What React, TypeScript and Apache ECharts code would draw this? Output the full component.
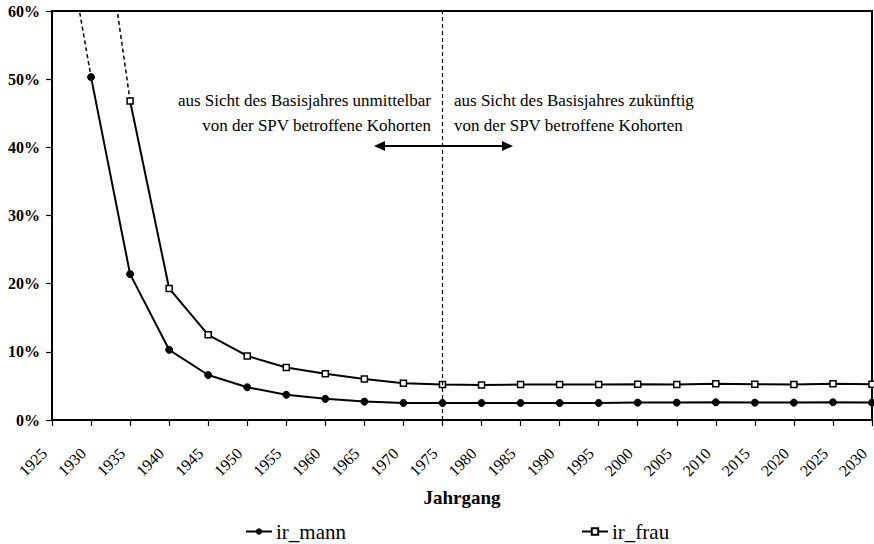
import React, { useEffect, useRef } from "react";
import * as echarts from "echarts";

const years = [1930, 1935, 1940, 1945, 1950, 1955, 1960, 1965, 1970, 1975, 1980, 1985, 1990, 1995, 2000, 2005, 2010, 2015, 2020, 2025, 2030];
const mannValues = [50.3, 21.4, 10.3, 6.6, 4.8, 3.7, 3.1, 2.7, 2.5, 2.5, 2.5, 2.5, 2.5, 2.5, 2.55, 2.55, 2.6, 2.55, 2.55, 2.6, 2.55];
const frauYears = years.slice(1);
const frauValues = [46.8, 19.3, 12.5, 9.4, 7.7, 6.8, 6.0, 5.4, 5.2, 5.15, 5.2, 5.2, 5.2, 5.25, 5.2, 5.3, 5.25, 5.2, 5.3, 5.25];
// points outside the visible range (drawn dashed, clipped at 60%)
const mannLead = [[1925, 83], [1930, 50.3]];
const frauLead = [[1930, 87], [1935, 46.8]];
const baseYear = 1975;
const leftNote = ["aus Sicht des Basisjahres unmittelbar", "von der SPV betroffene Kohorten"];
const rightNote = ["aus Sicht des Basisjahres zukünftig", "von der SPV betroffene Kohorten"];

const FONT = "'Liberation Serif', 'Times New Roman', serif";

export default function App() {
  const ref = useRef<HTMLDivElement>(null);
  useEffect(() => {
    document.body.style.margin = "0";
    if (!ref.current) return;
    const chart = echarts.init(ref.current, null, { renderer: "svg" });
    const ay = 146;
    chart.setOption({
      animation: false,
      backgroundColor: "#fff",
      textStyle: { fontFamily: FONT, color: "#000" },
      grid: { left: 52, right: 2, top: 11, bottom: 124, show: true, borderColor: "#000", borderWidth: 2, backgroundColor: "transparent" },
      legend: [
        {
          data: ["ir_mann"], left: 245, top: 521, itemWidth: 26, itemHeight: 8, itemGap: 0, padding: 0,
          textStyle: { fontFamily: FONT, fontSize: 21, color: "#000", padding: [0, 0, 0, -1] },
        },
        {
          data: ["ir_frau"], left: 581, top: 521, itemWidth: 26, itemHeight: 8, itemGap: 0, padding: 0,
          textStyle: { fontFamily: FONT, fontSize: 21, color: "#000", padding: [0, 0, 0, -1] },
        },
      ],
      xAxis: {
        type: "value", min: 1925, max: 2030, interval: 5,
        name: "Jahrgang", nameLocation: "middle", nameGap: 68,
        nameTextStyle: { fontFamily: FONT, fontSize: 19, fontWeight: "bold", color: "#000" },
        axisLine: { lineStyle: { color: "#000", width: 2 } },
        axisTick: { show: true, length: 6, lineStyle: { color: "#000", width: 1.2 } },
        axisLabel: {
          rotate: 45, margin: 23, padding: [0, 11, 0, 0],
          fontFamily: FONT, fontSize: 16, color: "#000", formatter: (v: number) => String(v),
        },
        splitLine: { show: false },
      },
      yAxis: {
        type: "value", min: 0, max: 60, interval: 10,
        axisLine: { show: true, lineStyle: { color: "#000", width: 2 } },
        axisTick: { show: true, length: 6, lineStyle: { color: "#000", width: 1.2 } },
        axisLabel: { margin: 12, fontFamily: FONT, fontSize: 16, fontWeight: "bold", color: "#000", formatter: "{value}%" },
        splitLine: { show: false },
      },
      series: [
        {
          name: "mann_lead", type: "line", data: mannLead, symbol: "none", clip: true, silent: true,
          lineStyle: { color: "#000", width: 1.5, type: [4, 3] },
        },
        {
          name: "frau_lead", type: "line", data: frauLead, symbol: "none", clip: true, silent: true,
          lineStyle: { color: "#000", width: 1.5, type: [4, 3] },
        },
        {
          name: "ir_mann", type: "line", data: years.map((y, i) => [y, mannValues[i]]),
          symbol: "circle", symbolSize: 7, clip: false,
          lineStyle: { color: "#000", width: 2 },
          itemStyle: { color: "#000", borderColor: "#000" },
          markLine: {
            silent: true, symbol: ["none", "none"], label: { show: false },
            lineStyle: { color: "#000", width: 1.2, type: [4, 3] },
            data: [{ xAxis: baseYear }],
          },
          z: 3,
        },
        {
          name: "ir_frau", type: "line", data: frauYears.map((y, i) => [y, frauValues[i]]),
          symbol: "rect", symbolSize: 6, clip: false,
          lineStyle: { color: "#000", width: 2 },
          itemStyle: { color: "#fff", borderColor: "#000", borderWidth: 1.5 },
          z: 3,
        },
      ],
      graphic: [
        ...leftNote.map((t, i) => ({
          type: "text", x: 431, y: 100 + i * 25,
          style: { text: t, fill: "#000", font: `17px ${FONT}`, align: "right", verticalAlign: "middle" },
        })),
        ...rightNote.map((t, i) => ({
          type: "text", x: 454, y: 100 + i * 25,
          style: { text: t, fill: "#000", font: `17px ${FONT}`, align: "left", verticalAlign: "middle" },
        })),
        { type: "line", shape: { x1: 382, y1: ay, x2: 504, y2: ay }, style: { stroke: "#000", lineWidth: 2 } },
        { type: "polygon", shape: { points: [[374, ay], [385, ay - 5], [385, ay + 5]] }, style: { fill: "#000" } },
        { type: "polygon", shape: { points: [[513, ay], [502, ay - 5], [502, ay + 5]] }, style: { fill: "#000" } },
      ],
    });
    return () => chart.dispose();
  }, []);
  return <div ref={ref} style={{ width: 874, height: 544 }} />;
}
